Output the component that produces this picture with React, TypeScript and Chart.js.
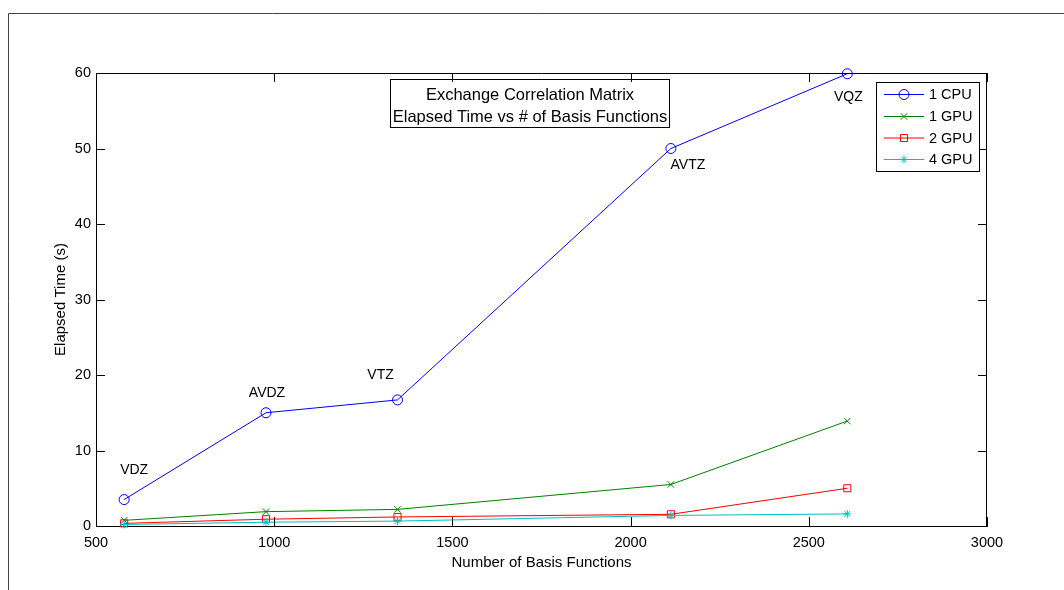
import { useEffect, useRef } from "react";
import { Chart, registerables } from "chart.js";

Chart.register(...registerables);

// Basis-set sizes and timings for building the exchange-correlation matrix
const basisFunctions = [579, 977, 1346, 2113, 2608];
const basisSetNames = ["VDZ", "AVDZ", "VTZ", "AVTZ", "VQZ"];
const cpu1 = [3.5, 15.0, 16.7, 50.0, 59.9];
const gpu1 = [0.75, 1.9, 2.2, 5.5, 13.9];
const gpu2 = [0.35, 0.9, 1.2, 1.55, 5.0];
const gpu4 = [0.2, 0.5, 0.65, 1.4, 1.6];
const seriesNames = ["1 CPU", "1 GPU", "2 GPU", "4 GPU"];
const xTicks = [500, 1000, 1500, 2000, 2500, 3000];
const yTicks = [0, 10, 20, 30, 40, 50, 60];
const titleLines = ["Exchange Correlation Matrix", "Elapsed Time vs # of Basis Functions"];
const xAxisTitle = "Number of Basis Functions";
const yAxisTitle = "Elapsed Time (s)";

const FONT = '"Liberation Sans", Arial, Helvetica, sans-serif';
const W = 1064;
const H = 590;

type Marker = "circle" | "crossRot" | "rect" | "star";

const seriesStyle: { color: string; marker: Marker; radius: number }[] = [
  { color: "#0000ff", marker: "circle", radius: 5 },
  { color: "#008000", marker: "crossRot", radius: 4.5 },
  { color: "#ff0000", marker: "rect", radius: 5 },
  { color: "#00bfbf", marker: "star", radius: 4 },
];

// pixel offsets of the basis-set names from the 1 CPU markers
const nameOffsets = [
  [10, -29],
  [1, -20],
  [-17, -25],
  [17, 17],
  [1, 23],
];

function drawMarker(ctx: CanvasRenderingContext2D, m: Marker, x: number, y: number, r: number, color: string) {
  ctx.save();
  ctx.strokeStyle = color;
  ctx.lineWidth = 1;
  ctx.beginPath();
  if (m === "circle") {
    ctx.arc(x, y, r, 0, Math.PI * 2);
  } else if (m === "rect") {
    const s = r * Math.SQRT1_2;
    ctx.rect(x - s, y - s, 2 * s, 2 * s);
  } else {
    const d = r * Math.SQRT1_2;
    ctx.moveTo(x - d, y - d);
    ctx.lineTo(x + d, y + d);
    ctx.moveTo(x - d, y + d);
    ctx.lineTo(x + d, y - d);
    if (m === "star") {
      ctx.moveTo(x - r, y);
      ctx.lineTo(x + r, y);
      ctx.moveTo(x, y - r);
      ctx.lineTo(x, y + r);
    }
  }
  ctx.stroke();
  ctx.restore();
}

const figurePlugin = {
  id: "figureDecor",
  beforeDraw(chart: any) {
    const ctx: CanvasRenderingContext2D = chart.ctx;
    ctx.save();
    ctx.fillStyle = "#ffffff";
    ctx.fillRect(0, 0, W, H);
    ctx.strokeStyle = "#444444";
    ctx.lineWidth = 1;
    ctx.beginPath();
    ctx.moveTo(8.5, H);
    ctx.lineTo(8.5, 13.5);
    ctx.lineTo(W, 13.5);
    ctx.stroke();
    ctx.restore();
  },
  afterDatasetsDraw(chart: any) {
    const ctx: CanvasRenderingContext2D = chart.ctx;
    const { left, right, top, bottom } = chart.chartArea;
    const xs = chart.scales.x;
    const ys = chart.scales.y;
    const tick = 9;

    ctx.save();
    ctx.strokeStyle = "#000000";
    ctx.lineWidth = 1;
    ctx.beginPath();
    // box: top and right edges
    ctx.moveTo(left, top + 0.5);
    ctx.lineTo(right, top + 0.5);
    ctx.moveTo(right - 0.5, top);
    ctx.lineTo(right - 0.5, bottom);
    // inward ticks on all four sides
    for (const v of xTicks) {
      const px = Math.round(xs.getPixelForValue(v)) + 0.5;
      ctx.moveTo(px, bottom);
      ctx.lineTo(px, bottom - tick);
      ctx.moveTo(px, top);
      ctx.lineTo(px, top + tick);
    }
    for (const v of yTicks) {
      const py = Math.round(ys.getPixelForValue(v)) + 0.5;
      ctx.moveTo(left, py);
      ctx.lineTo(left + tick, py);
      ctx.moveTo(right, py);
      ctx.lineTo(right - tick, py);
    }
    ctx.stroke();

    // basis-set names next to the 1 CPU points
    ctx.fillStyle = "#000000";
    ctx.font = `14px ${FONT}`;
    ctx.textAlign = "center";
    ctx.textBaseline = "middle";
    basisSetNames.forEach((name, i) => {
      const px = xs.getPixelForValue(basisFunctions[i]);
      const py = ys.getPixelForValue(cpu1[i]);
      ctx.fillText(name, px + nameOffsets[i][0], py + nameOffsets[i][1]);
    });

    // title text box
    const bx = 390.5, by = 79.5, bw = 279, bh = 48;
    ctx.strokeRect(bx, by, bw, bh);
    ctx.font = `16.5px ${FONT}`;
    ctx.fillText(titleLines[0], bx + bw / 2, 95.5);
    ctx.fillText(titleLines[1], bx + bw / 2, 117.5);

    // legend
    const lx = 876.5, ly = 82.5, lw = 103, lh = 89;
    ctx.fillStyle = "#ffffff";
    ctx.fillRect(lx, ly, lw, lh);
    ctx.strokeStyle = "#000000";
    ctx.strokeRect(lx, ly, lw, lh);
    const rows = [94, 116, 137.5, 159];
    ctx.font = `14.5px ${FONT}`;
    ctx.textAlign = "left";
    seriesNames.forEach((name, i) => {
      const st = seriesStyle[i];
      const ry = rows[i] + 0.5;
      ctx.strokeStyle = st.color;
      ctx.beginPath();
      ctx.moveTo(884, ry);
      ctx.lineTo(924, ry);
      ctx.stroke();
      drawMarker(ctx, st.marker, 904, ry, st.radius, st.color);
      ctx.fillStyle = "#000000";
      ctx.fillText(name, 929, ry + 0.5);
    });
    ctx.restore();
  },
};

export default function App() {
  const canvasRef = useRef<HTMLCanvasElement | null>(null);

  useEffect(() => {
    const canvas = canvasRef.current;
    if (!canvas) return;
    const series = [cpu1, gpu1, gpu2, gpu4];
    const chart = new Chart(canvas, {
      type: "line",
      data: {
        datasets: series.map((vals, i) => ({
          label: seriesNames[i],
          data: basisFunctions.map((x, j) => ({ x, y: vals[j] })),
          borderColor: seriesStyle[i].color,
          backgroundColor: "rgba(0,0,0,0)",
          borderWidth: 1,
          pointStyle: seriesStyle[i].marker,
          pointRadius: seriesStyle[i].radius,
          pointBorderWidth: 1,
          pointBorderColor: seriesStyle[i].color,
          pointBackgroundColor: "rgba(0,0,0,0)",
          tension: 0,
          fill: false,
          clip: false as any,
          order: 4 - i,
        })),
      },
      options: {
        animation: false,
        responsive: false,
        devicePixelRatio: 1,
        events: [],
        layout: { padding: { left: 0, right: W - 987, top: 73, bottom: 0 } },
        plugins: {
          legend: { display: false },
          tooltip: { enabled: false },
          title: { display: false },
        },
        scales: {
          x: {
            type: "linear",
            min: 500,
            max: 3000,
            afterBuildTicks: (s: any) => {
              s.ticks = xTicks.map((v) => ({ value: v }));
            },
            afterFit: (s: any) => {
              s.height = H - 526;
            },
            grid: { display: false, drawTicks: false },
            border: { display: true, color: "#000000", width: 1 },
            ticks: {
              padding: 8,
              color: "#000000",
              font: { family: FONT, size: 14.5 },
              maxRotation: 0,
              callback: (v: any) => String(v),
            },
            title: {
              display: true,
              text: xAxisTitle,
              color: "#000000",
              font: { family: FONT, size: 15 },
              padding: { top: 0, bottom: 18 },
            },
          },
          y: {
            type: "linear",
            min: 0,
            max: 60,
            afterBuildTicks: (s: any) => {
              s.ticks = yTicks.map((v) => ({ value: v }));
            },
            afterFit: (s: any) => {
              s.width = 96;
            },
            grid: { display: false, drawTicks: false },
            border: { display: true, color: "#000000", width: 1 },
            ticks: {
              padding: 5,
              color: "#000000",
              font: { family: FONT, size: 14.5 },
              callback: (v: any) => String(v),
            },
            title: {
              display: true,
              text: yAxisTitle,
              color: "#000000",
              font: { family: FONT, size: 15 },
              padding: { top: 52, bottom: 0 },
            },
          },
        },
      },
      plugins: [figurePlugin],
    });
    return () => chart.destroy();
  }, []);

  return (
    <div style={{ position: "fixed", left: 0, top: 0, width: W, height: H, background: "#fff" }}>
      <canvas ref={canvasRef} width={W} height={H} style={{ display: "block", width: W, height: H }} />
    </div>
  );
}
